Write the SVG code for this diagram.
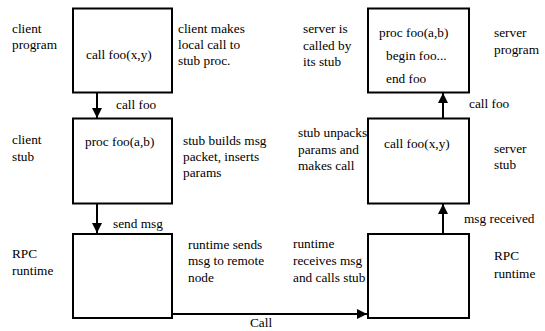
<svg xmlns="http://www.w3.org/2000/svg" width="545" height="331" viewBox="0 0 545 331" font-family="Liberation Serif, Times New Roman, serif" font-size="13.3">
<defs>
<marker id="ah" markerWidth="10" markerHeight="10" viewBox="0 0 10 10" refX="10" refY="5" orient="auto" markerUnits="userSpaceOnUse">
<path d="M0,0 L10,5 L0,10 Z" fill="#000"/>
</marker>
</defs>
<style>
.box{fill:#fff;stroke:#000;stroke-width:2}
text{font-family:'Liberation Serif','Times New Roman',serif;font-size:13.3px;fill:#000}
.c line{stroke:#000;stroke-width:2;marker-end:url(#ah)}
</style>
<rect width="545" height="331" fill="#fff"/>
<g id="labels">
<text x="12" y="33">client</text><text x="12" y="49">program</text>
<text x="178" y="33">client makes</text><text x="178" y="49">local call to</text><text x="178" y="65">stub proc.</text>
<text x="12" y="144">client</text><text x="12" y="161">stub</text>
<text x="183" y="145">stub builds msg</text><text x="183" y="161">packet, inserts</text><text x="183" y="177">params</text>
<text x="12" y="258">RPC</text><text x="12" y="275">runtime</text>
<text x="188" y="249">runtime sends</text><text x="188" y="265">msg to remote</text><text x="188" y="282">node</text>
<text x="303" y="33">server is</text><text x="303" y="50">called by</text><text x="303" y="66">its stub</text>
<text x="494" y="37">server</text><text x="494" y="54">program</text>
<text x="298" y="137">stub unpacks</text><text x="298" y="154">params and</text><text x="298" y="170">makes call</text>
<text x="494" y="153">server</text><text x="494" y="169">stub</text>
<text x="293" y="248">runtime</text><text x="293" y="265">receives msg</text><text x="293" y="282">and calls stub</text>
<text x="494" y="260">RPC</text><text x="494" y="278">runtime</text>
</g>
<g id="client-program"><rect class="box" x="73" y="8.5" width="99" height="84"/><text x="86" y="59">call foo(x,y)</text></g>
<g id="client-stub"><rect class="box" x="73" y="118.5" width="99" height="85"/><text x="85" y="146">proc foo(a,b)</text></g>
<g id="client-runtime"><rect class="box" x="73" y="234" width="99" height="84"/></g>
<g id="server-program"><rect class="box" x="368" y="8.5" width="101" height="84"/><text x="379" y="37">proc foo(a,b)</text><text x="386" y="60">begin foo...</text><text x="386" y="83">end foo</text></g>
<g id="server-stub"><rect class="box" x="368" y="118.5" width="101" height="85"/><text x="384" y="148">call foo(x,y)</text></g>
<g id="server-runtime"><rect class="box" x="368" y="234" width="101" height="84"/></g>
<g id="connectors" class="c">
<line x1="97" y1="93" x2="97" y2="118"/>
<line x1="97" y1="204" x2="97" y2="233"/>
<line x1="173" y1="314" x2="367" y2="314"/>
<line x1="443" y1="233" x2="443" y2="204"/>
<line x1="443" y1="118" x2="443" y2="93"/>
<text x="116" y="109">call foo</text>
<text x="113" y="228">send msg</text>
<text x="250" y="327">Call</text>
<text x="464" y="223">msg received</text>
<text x="469" y="108">call foo</text>
</g>
</svg>
